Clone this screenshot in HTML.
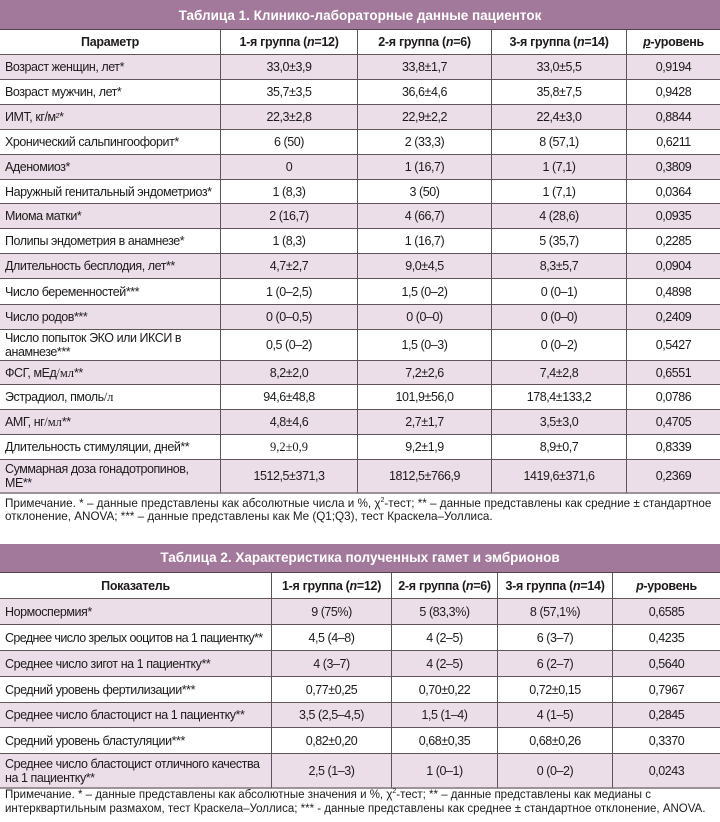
<!DOCTYPE html>
<html>
<head>
<meta charset="utf-8">
<style>
*{margin:0;padding:0;box-sizing:border-box;}
html,body{width:720px;height:822px;background:#fff;overflow:hidden;}
body{position:relative;font-family:"Liberation Sans",Arial,sans-serif;color:#1e1a1b;}
.tbl{position:absolute;left:0;width:720px;}
.bar{background:#a2789b;color:#fff;font-weight:bold;font-size:13.5px;text-align:center;border-bottom:1px solid #4f444b;}
.g{display:grid;}
.g1{grid-template-columns:221px 137px 134px 135px 93px;
 grid-template-rows:25px 25px 25px 25px 25px 25px 24px 25px 25px 25px 26px 25px 31px 24px 25px 25px 25px 34px;}
.g2{grid-template-columns:272px 120px 106px 115px 107px;
 grid-template-rows:26px 26px 26px 26px 26px 25px 26px 35px;}
.g>div{border-right:1px solid #5f5558;border-bottom:1px solid #5f5558;display:flex;align-items:center;justify-content:center;font-size:12.5px;letter-spacing:-0.45px;line-height:14px;white-space:nowrap;}
.g>div.l{justify-content:flex-start;padding-left:5px;}
.g>div.e{border-right:none;}
.g>div.p{background:#ecdee9;}
.g>div.h{font-weight:bold;letter-spacing:-0.3px;}
.g>div.last{border-bottom:2px solid #9d9397;}
.g>div.n{letter-spacing:-0.6px;}
.s{font-family:"Liberation Serif","Times New Roman",serif;font-size:12.5px;letter-spacing:0;}
sup.t{font-size:7px;vertical-align:5px;line-height:0;}
.note{position:absolute;left:5px;font-size:11.7px;white-space:nowrap;color:#1e1a1b;}
</style>
</head>
<body>

<div class="tbl" style="top:0;">
  <div class="bar" style="height:30px;line-height:28px;padding-top:2px;">Таблица 1. Клинико-лабораторные данные пациенток</div>
  <div class="g g1">
    <div class="h">Параметр</div><div class="h">1-я группа (<i>n</i>=12)</div><div class="h">2-я группа (<i>n</i>=6)</div><div class="h">3-я группа (<i>n</i>=14)</div><div class="h e"><u><i>p</i></u>-уровень</div>

    <div class="l p">Возраст женщин, лет*</div><div class="p">33,0±3,9</div><div class="p">33,8±1,7</div><div class="p">33,0±5,5</div><div class="p e">0,9194</div>
    <div class="l">Возраст мужчин, лет*</div><div>35,7±3,5</div><div>36,6±4,6</div><div>35,8±7,5</div><div class="e">0,9428</div>
    <div class="l p">ИМТ, кг/м<sup class="t">2</sup>*</div><div class="p">22,3±2,8</div><div class="p">22,9±2,2</div><div class="p">22,4±3,0</div><div class="p e">0,8844</div>
    <div class="l">Хронический сальпингоофорит*</div><div>6 (50)</div><div>2 (33,3)</div><div>8 (57,1)</div><div class="e">0,6211</div>
    <div class="l p">Аденомиоз*</div><div class="p">0</div><div class="p">1 (16,7)</div><div class="p">1 (7,1)</div><div class="p e">0,3809</div>
    <div class="l">Наружный генитальный эндометриоз*</div><div>1 (8,3)</div><div>3 (50)</div><div>1 (7,1)</div><div class="e">0,0364</div>
    <div class="l p">Миома матки*</div><div class="p">2 (16,7)</div><div class="p">4 (66,7)</div><div class="p">4 (28,6)</div><div class="p e">0,0935</div>
    <div class="l">Полипы эндометрия в анамнезе*</div><div>1 (8,3)</div><div>1 (16,7)</div><div>5 (35,7)</div><div class="e">0,2285</div>
    <div class="l p">Длительность бесплодия, лет**</div><div class="p">4,7±2,7</div><div class="p">9,0±4,5</div><div class="p">8,3±5,7</div><div class="p e">0,0904</div>
    <div class="l">Число беременностей***</div><div>1 (0–2,5)</div><div>1,5 (0–2)</div><div>0 (0–1)</div><div class="e">0,4898</div>
    <div class="l p">Число родов***</div><div class="p">0 (0–0,5)</div><div class="p">0 (0–0)</div><div class="p">0 (0–0)</div><div class="p e">0,2409</div>
    <div class="l">Число попыток ЭКО или ИКСИ в<br>анамнезе***</div><div>0,5 (0–2)</div><div>1,5 (0–3)</div><div>0 (0–2)</div><div class="e">0,5427</div>
    <div class="l p">ФСГ, мЕд<span class="s">/мл</span>**</div><div class="p">8,2±2,0</div><div class="p">7,2±2,6</div><div class="p">7,4±2,8</div><div class="p e">0,6551</div>
    <div class="l">Эстрадиол, пмоль<span class="s">/л</span></div><div>94,6±48,8</div><div>101,9±56,0</div><div>178,4±133,2</div><div class="e">0,0786</div>
    <div class="l p">АМГ, нг<span class="s">/мл</span>**</div><div class="p">4,8±4,6</div><div class="p">2,7±1,7</div><div class="p">3,5±3,0</div><div class="p e">0,4705</div>
    <div class="l">Длительность стимуляции, дней**</div><div><span class="s">9,2±0,9</span></div><div>9,2±1,9</div><div>8,9±0,7</div><div class="e">0,8339</div>
    <div class="l p last">Суммарная доза гонадотропинов,<br>МЕ**</div><div class="p last">1512,5±371,3</div><div class="p last">1812,5±766,9</div><div class="p last">1419,6±371,6</div><div class="p e last">0,2369</div>
  </div>
</div>

<div class="note" style="top:497px;line-height:13px;">Примечание. * – данные представлены как абсолютные числа и %, χ<sup class="t">2</sup>-тест; ** – данные представлены как средние ± стандартное<br>отклонение, ANOVA; *** – данные представлены как Me (Q1;Q3), тест Краскела–Уоллиса.</div>

<div class="tbl" style="top:544px;">
  <div class="bar" style="height:29px;line-height:28px;">Таблица 2. Характеристика полученных гамет и эмбрионов</div>
  <div class="g g2">
    <div class="h">Показатель</div><div class="h">1-я группа (<i>n</i>=12)</div><div class="h">2-я группа (<i>n</i>=6)</div><div class="h">3-я группа (<i>n</i>=14)</div><div class="h e"><i>p</i>-уровень</div>

    <div class="l p">Нормоспермия*</div><div class="p">9 (75%)</div><div class="p">5 (83,3%)</div><div class="p">8 (57,1%)</div><div class="p e">0,6585</div>
    <div class="l n">Среднее число зрелых ооцитов на 1 пациентку**</div><div>4,5 (4–8)</div><div>4 (2–5)</div><div>6 (3–7)</div><div class="e">0,4235</div>
    <div class="l p">Среднее число зигот на 1 пациентку**</div><div class="p">4 (3–7)</div><div class="p">4 (2–5)</div><div class="p">6 (2–7)</div><div class="p e">0,5640</div>
    <div class="l">Средний уровень фертилизации***</div><div>0,77±0,25</div><div>0,70±0,22</div><div>0,72±0,15</div><div class="e">0,7967</div>
    <div class="l p">Среднее число бластоцист на 1 пациентку**</div><div class="p">3,5 (2,5–4,5)</div><div class="p">1,5 (1–4)</div><div class="p">4 (1–5)</div><div class="p e">0,2845</div>
    <div class="l">Средний уровень бластуляции***</div><div>0,82±0,20</div><div>0,68±0,35</div><div>0,68±0,26</div><div class="e">0,3370</div>
    <div class="l p last">Среднее число бластоцист отличного качества<br>на 1 пациентку**</div><div class="p last">2,5 (1–3)</div><div class="p last">1 (0–1)</div><div class="p last">0 (0–2)</div><div class="p e last">0,0243</div>
  </div>
</div>

<div class="note" style="top:789px;line-height:13.5px;font-size:11.5px;">Примечание. * – данные представлены как абсолютные значения и %, χ<sup class="t">2</sup>-тест; ** – данные представлены как медианы с<br>интерквартильным размахом, тест Краскела–Уоллиса; *** - данные представлены как среднее ± стандартное отклонение, ANOVA.</div>

</body>
</html>
